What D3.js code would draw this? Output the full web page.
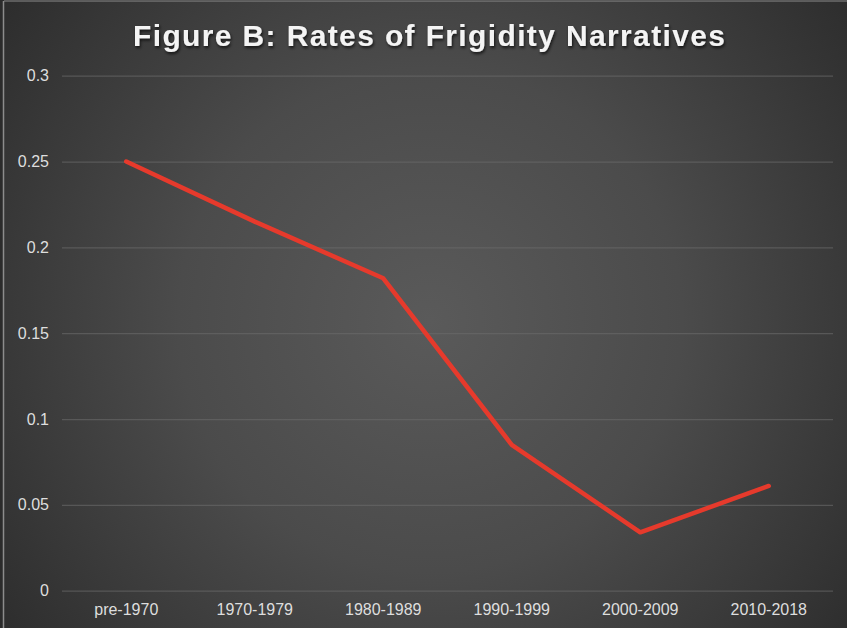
<!DOCTYPE html>
<html>
<head>
<meta charset="utf-8">
<script src="https://cdn.jsdelivr.net/npm/d3@7"></script>
<style>
html,body{margin:0;padding:0;background:#2b2b2b;}
svg{display:block;}
text{font-family:"Liberation Sans",Arial,Helvetica,sans-serif;}
</style>
</head>
<body>
<svg id="chart" width="847" height="628"></svg>
<script>
const titleText = "Figure B: Rates of Frigidity Narratives";
const categories = ["pre-1970","1970-1979","1980-1989","1990-1999","2000-2009","2010-2018"];
const rates = [0.25, 0.215, 0.182, 0.085, 0.034, 0.061];
const yTicks = [0, 0.05, 0.1, 0.15, 0.2, 0.25, 0.3];

const W = 847, H = 628;
const margin = {left: 62, right: 14, top: 75.7, bottom: 37.3};
const svg = d3.select("#chart");
const defs = svg.append("defs");

const grad = defs.append("radialGradient").attr("id","bg")
  .attr("gradientUnits","userSpaceOnUse")
  .attr("cx", 430).attr("cy", 320).attr("r", 560);
grad.append("stop").attr("offset","0%").attr("stop-color","#5a5a5a");
grad.append("stop").attr("offset","45%").attr("stop-color","#4b4b4b");
grad.append("stop").attr("offset","100%").attr("stop-color","#2a2a2a");

const shadow = defs.append("filter").attr("id","ts").attr("x","-5%").attr("y","-30%").attr("width","110%").attr("height","160%");
shadow.append("feDropShadow").attr("dx",1).attr("dy",2).attr("stdDeviation",1.5).attr("flood-color","#000").attr("flood-opacity",0.7);

svg.append("rect").attr("x",0).attr("y",0).attr("width",W).attr("height",H).attr("fill","#2b2b2b");
svg.append("rect").attr("x",4).attr("y",1).attr("width",W-4).attr("height",H-1).attr("fill","url(#bg)");
svg.append("line").attr("x1",3.5).attr("x2",3.5).attr("y1",1).attr("y2",H).attr("stroke","#8c8c8c").attr("stroke-width",1.5);
svg.append("line").attr("x1",4).attr("x2",W).attr("y1",1).attr("y2",1).attr("stroke","#8c8c8c").attr("stroke-width",1.2);

const x = d3.scaleBand().domain(categories).range([margin.left, W - margin.right]).padding(0);
const y = d3.scaleLinear().domain([0, 0.3]).range([H - margin.bottom, margin.top]);

// gridlines
const yAxisGrid = d3.axisLeft(y).tickValues(yTicks).tickSize(-(W - margin.left - margin.right)).tickFormat("");
const grid = svg.append("g").attr("transform", `translate(${margin.left},0)`).call(yAxisGrid);
grid.select(".domain").remove();
grid.selectAll(".tick line").attr("stroke","#6a6a6a").attr("stroke-width",1.2).attr("opacity",0.6);

// y labels
const yAxis = d3.axisLeft(y).tickValues(yTicks).tickSize(0).tickPadding(13).tickFormat(d => String(+d.toFixed(2)));
const ya = svg.append("g").attr("transform", `translate(${margin.left},0)`).call(yAxis);
ya.select(".domain").remove();
ya.selectAll("text").attr("fill","#dedede").attr("font-size",16)
  .attr("font-family","'Liberation Sans',Arial,sans-serif");

// x labels
const xAxis = d3.axisBottom(x).tickSize(0).tickPadding(13);
const xa = svg.append("g").attr("transform", `translate(0,${H - margin.bottom})`).call(xAxis);
xa.select(".domain").remove();
xa.selectAll("text").attr("fill","#dedede").attr("font-size",16)
  .attr("font-family","'Liberation Sans',Arial,sans-serif");

// line
const line = d3.line().x((d,i) => x(categories[i]) + x.bandwidth()/2).y(d => y(d));
svg.append("path").datum(rates).attr("d", line)
  .attr("fill","none").attr("stroke","#e63a2c").attr("stroke-width",4.5)
  .attr("stroke-linejoin","round").attr("stroke-linecap","round");

// title
svg.append("text").attr("x", 429).attr("y", 46)
  .attr("text-anchor","middle").attr("fill","#f4f4f4")
  .attr("font-size",30).attr("font-weight","bold")
  .attr("textLength",592).attr("lengthAdjust","spacing")
  .attr("filter","url(#ts)")
  .text(titleText);
</script>
</body>
</html>
